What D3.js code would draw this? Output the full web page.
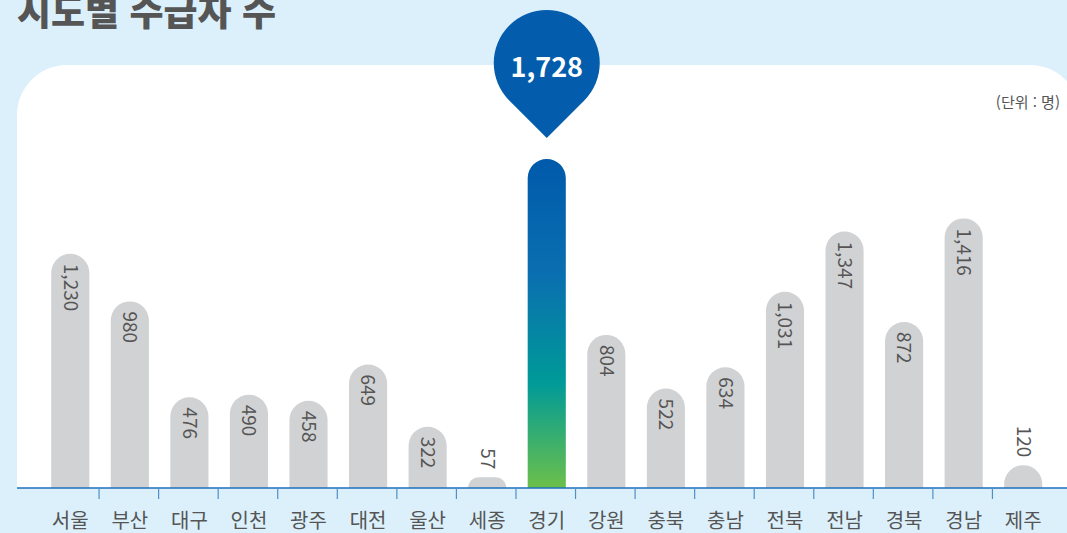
<!DOCTYPE html>
<html lang="ko">
<head>
<meta charset="UTF-8">
<title>시도별 수급자 수</title>
<script src="https://d3js.org/d3.v7.min.js"></script>
<style>
  body { margin: 0; background: #dcf0fb; }
  svg { display: block; }
  text { font-family: "Noto Sans CJK KR", "Noto Sans", sans-serif; }
</style>
</head>
<body>
<script>
// regions and recipients per region
const regions = ["서울", "부산", "대구", "인천", "광주", "대전", "울산", "세종", "경기",
                 "강원", "충북", "충남", "전북", "전남", "경북", "경남", "제주"];
const counts = [1230, 980, 476, 490, 458, 649, 322, 57, 1728,
                804, 522, 634, 1031, 1347, 872, 1416, 120];
const highlight = "경기";

const W = 1067, H = 533;
const baseY = 488;

const svg = d3.select("body").append("svg")
    .attr("width", W)
    .attr("height", H);

// gradient for the highlighted bar
const grad = svg.append("defs").append("linearGradient")
    .attr("id", "hl").attr("x1", 0).attr("y1", 0).attr("x2", 0).attr("y2", 1);
grad.append("stop").attr("offset", "0%").attr("stop-color", "#005aab");
grad.append("stop").attr("offset", "35%").attr("stop-color", "#0a6fb0");
grad.append("stop").attr("offset", "68%").attr("stop-color", "#009a98");
grad.append("stop").attr("offset", "100%").attr("stop-color", "#6cc04a");

// title (cut off at top, as in the source)
svg.append("text")
    .attr("x", 17).attr("y", 26)
    .attr("font-size", 37).attr("font-weight", 900)
    .attr("fill", "#555")
    .text("시도별 수급자 수");

// white panel, rounded top corners only
const px = 17, py = 65, pr = 50, pw = 1080;
svg.append("path")
    .attr("d", `M${px},${baseY}V${py + pr}A${pr},${pr} 0 0 1 ${px + pr},${py}H${pw - pr}A${pr},${pr} 0 0 1 ${pw},${py + pr}V${baseY}Z`)
    .attr("fill", "#fff");

svg.append("text")
    .attr("x", 1060).attr("y", 108)
    .attr("text-anchor", "end")
    .attr("font-size", 15).attr("fill", "#555")
    .text("(단위 : 명)");

const x = d3.scaleBand()
    .domain(regions)
    .range([39.5, 1052])
    .paddingInner(0.36)
    .paddingOuter(0.18);

const y = d3.scaleLinear()
    .domain([0, 1728])
    .range([baseY, 159]);

const bw = x.bandwidth();

function barPath(x0, top, w) {
  const h = baseY - top;
  const r = Math.min(w / 2, h);
  return `M${x0},${baseY}V${top + r}A${r},${r} 0 0 1 ${x0 + r},${top}H${x0 + w - r}A${r},${r} 0 0 1 ${x0 + w},${top + r}V${baseY}Z`;
}

const data = regions.map((r, i) => ({ region: r, value: counts[i] }));

svg.selectAll("path.bar")
    .data(data)
    .join("path")
    .attr("class", "bar")
    .attr("d", d => barPath(x(d.region) + 1, y(d.value), bw))
    .attr("fill", d => d.region === highlight ? "url(#hl)" : "#d1d2d4");

// rotated value labels
const fmt = d3.format(",");
svg.selectAll("text.val")
    .data(data.filter(d => d.region !== highlight))
    .join("text")
    .attr("class", "val")
    .attr("transform", d => {
      const cx = x(d.region) + 1 + bw / 2;
      const h = baseY - y(d.value);
      const ty = h < 60 ? y(d.value) - 8 - fmt(d.value).length * 10.5 : y(d.value) + 10;
      return `translate(${cx},${ty}) rotate(90)`;
    })
    .attr("dy", "0.35em")
    .attr("font-size", 19).attr("fill", "#555")
    .text(d => fmt(d.value));

// axis
const axisG = svg.append("g");
axisG.append("line")
    .attr("x1", 17).attr("x2", W)
    .attr("y1", baseY).attr("y2", baseY)
    .attr("stroke", "#1d6fbe").attr("stroke-width", 1.5);

axisG.selectAll("line.tick")
    .data(regions.slice(1))
    .join("line")
    .attr("class", "tick")
    .attr("x1", d => x(d) - x.step() * x.paddingInner() / 2)
    .attr("x2", d => x(d) - x.step() * x.paddingInner() / 2)
    .attr("y1", baseY).attr("y2", baseY + 11)
    .attr("stroke", "#4f8fcc").attr("stroke-width", 1.2);

axisG.selectAll("text.cat")
    .data(regions)
    .join("text")
    .attr("class", "cat")
    .attr("x", d => x(d) + 1 + bw / 2)
    .attr("y", 528)
    .attr("text-anchor", "middle")
    .attr("font-size", 20).attr("fill", "#555")
    .text(d => d);

// pin callout for the highlight
const hv = counts[regions.indexOf(highlight)];
const pcx = x(highlight) + 1 + bw / 2, pcy = 63, prad = 53, tipY = 138;
const ang = Math.acos(prad / (tipY - pcy));
const lx = pcx - prad * Math.sin(ang), ly = pcy + prad * Math.cos(ang);
const rx2 = pcx + prad * Math.sin(ang);
svg.append("path")
    .attr("d", `M${pcx},${tipY}L${lx},${ly}A${prad},${prad} 0 1 1 ${rx2},${ly}Z`)
    .attr("fill", "#035dac");
svg.append("text")
    .attr("x", pcx).attr("y", pcy + 5)
    .attr("text-anchor", "middle").attr("dy", "0.35em")
    .attr("font-size", 27).attr("font-weight", 700)
    .attr("font-family", "Inter, 'Noto Sans', sans-serif")
    .attr("fill", "#fff")
    .text(fmt(hv));
</script>
</body>
</html>
